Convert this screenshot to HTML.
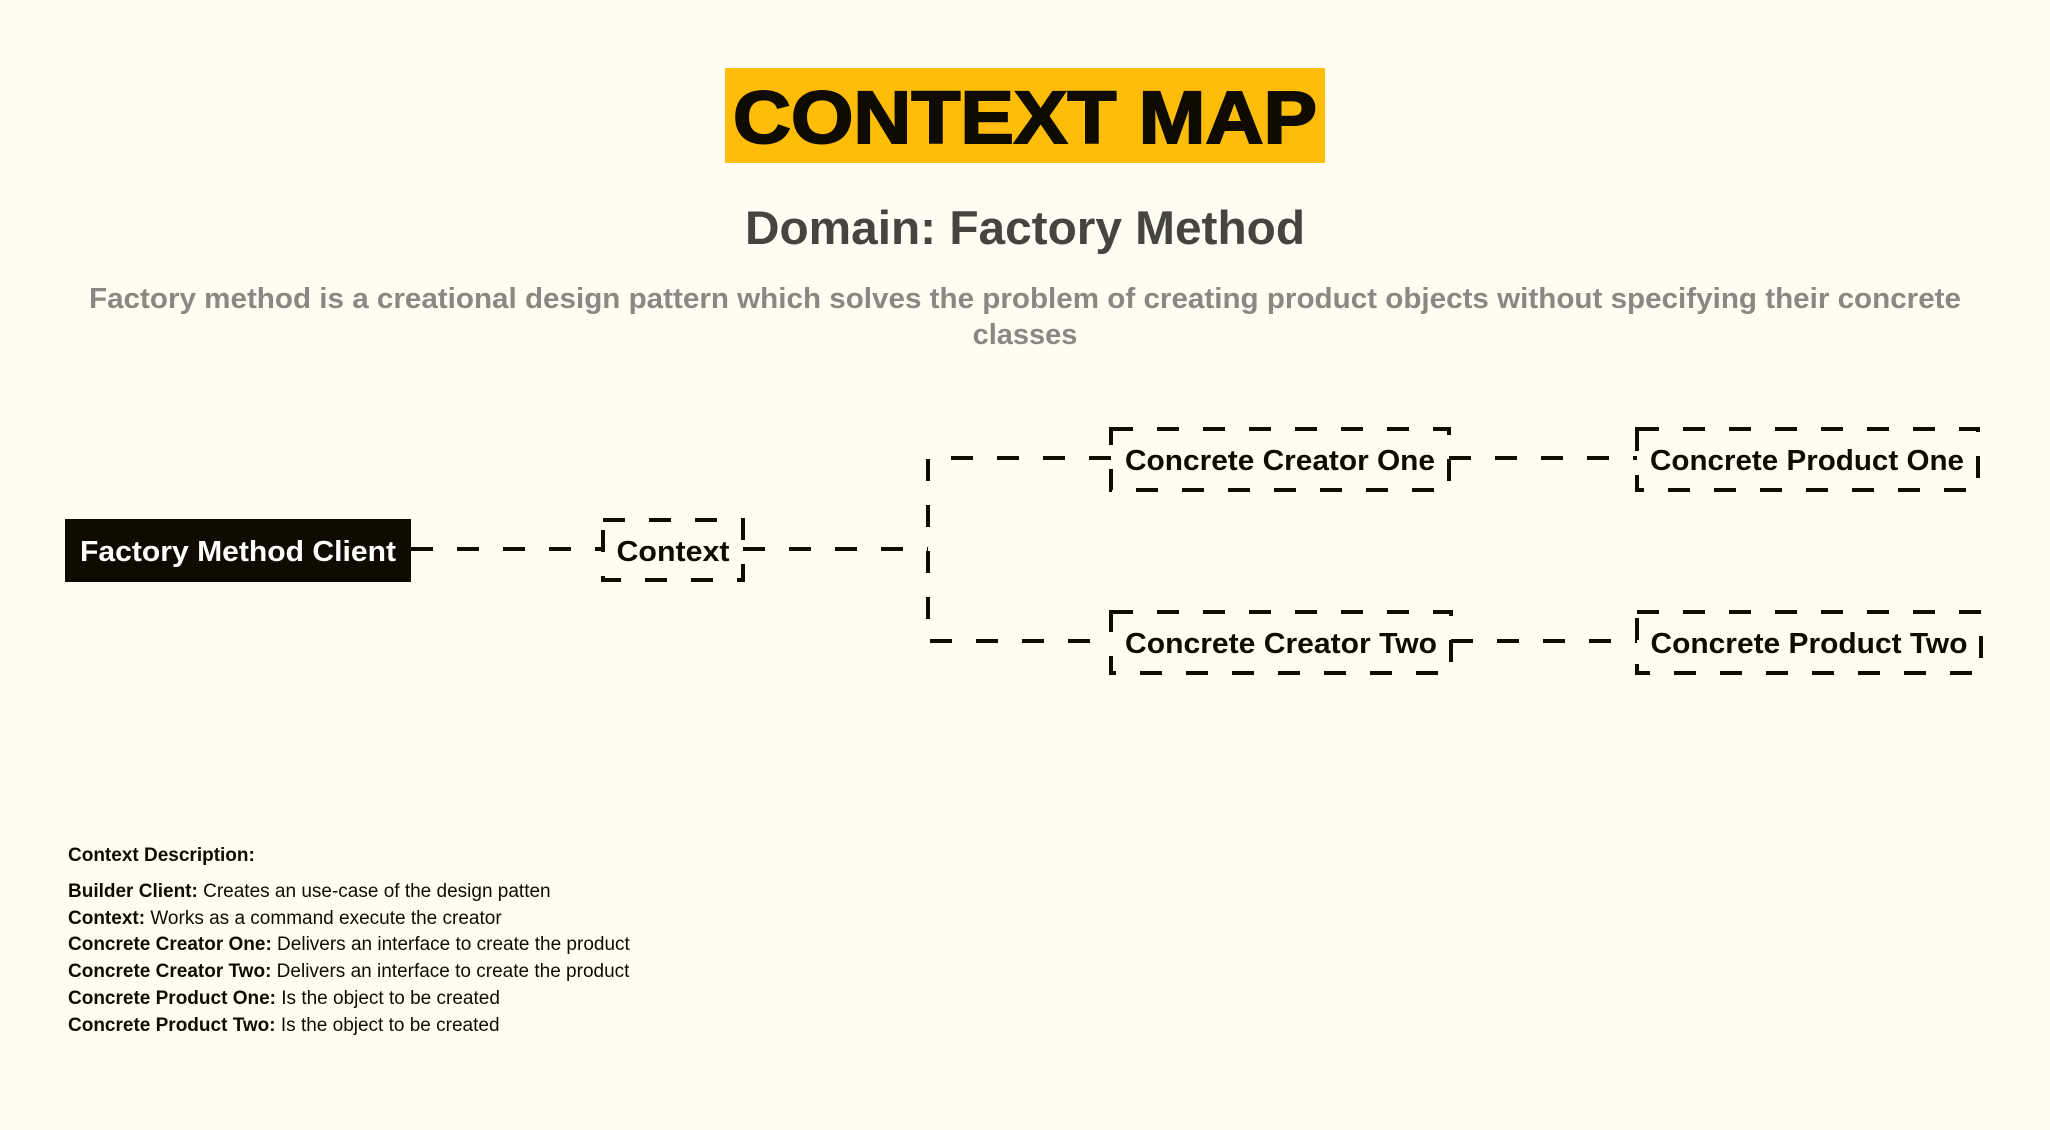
<!DOCTYPE html>
<html><head><meta charset="utf-8"><style>
html,body{margin:0;padding:0;background:#fffdf2;}
svg{display:block;}
</style></head><body>
<svg width="2050" height="1130" viewBox="0 0 2050 1130" xmlns="http://www.w3.org/2000/svg" font-family="Liberation Sans, sans-serif">
<rect width="2050" height="1130" fill="#fffdf2"/>
<rect x="725" y="68" width="600" height="95" fill="#ffbd08"/>
<text x="1025" y="143" text-anchor="middle" font-size="74" font-weight="900" fill="#0f0b01" textLength="584" lengthAdjust="spacingAndGlyphs" stroke="#0f0b01" stroke-width="2">CONTEXT MAP</text>
<text x="1025" y="244" text-anchor="middle" font-size="47" font-weight="bold" fill="#45443d" textLength="560" lengthAdjust="spacingAndGlyphs">Domain: Factory Method</text>
<text x="1025" y="308" text-anchor="middle" font-size="29" font-weight="bold" fill="#8a897f" textLength="1872" lengthAdjust="spacingAndGlyphs">Factory method is a creational design pattern which solves the problem of creating product objects without specifying their concrete</text>
<text x="1025" y="344" text-anchor="middle" font-size="29" font-weight="bold" fill="#8a897f">classes</text>

<g stroke="#0f0b01" stroke-width="4" fill="none" stroke-dasharray="22 24">
<line x1="411" y1="549" x2="603" y2="549"/>
<line x1="743" y1="549" x2="928" y2="549"/>
<polyline points="1111,458 928,458 928,641 1111,641" />
<line x1="1449" y1="458" x2="1637" y2="458"/>
<line x1="1451" y1="641" x2="1637" y2="641"/>
<rect x="603" y="520" width="140" height="60"/>
<rect x="1111" y="429" width="338" height="61"/>
<rect x="1111" y="612" width="340" height="61"/>
<rect x="1637" y="429" width="341" height="61"/>
<rect x="1637" y="612" width="344" height="61"/>
</g>
<rect x="65" y="519" width="346" height="63" fill="#0f0b01"/>
<g font-size="29" font-weight="bold" fill="#0f0b01" text-anchor="middle">
<text x="238" y="561" fill="#fff" textLength="316" lengthAdjust="spacingAndGlyphs">Factory Method Client</text>
<text x="673" y="561" textLength="113" lengthAdjust="spacingAndGlyphs">Context</text>
<text x="1280" y="470" textLength="310" lengthAdjust="spacingAndGlyphs">Concrete Creator One</text>
<text x="1281" y="653" textLength="312" lengthAdjust="spacingAndGlyphs">Concrete Creator Two</text>
<text x="1807" y="470" textLength="314" lengthAdjust="spacingAndGlyphs">Concrete Product One</text>
<text x="1809" y="653" textLength="317" lengthAdjust="spacingAndGlyphs">Concrete Product Two</text>
</g>
<g font-size="19" fill="#0f0b01">
<text x="68" y="861" font-weight="bold">Context Description:</text>
<text x="68" y="897"><tspan font-weight="bold">Builder Client:</tspan> Creates an use-case of the design patten</text>
<text x="68" y="924"><tspan font-weight="bold">Context:</tspan> Works as a command execute the creator</text>
<text x="68" y="950"><tspan font-weight="bold">Concrete Creator One:</tspan> Delivers an interface to create the product</text>
<text x="68" y="977"><tspan font-weight="bold">Concrete Creator Two:</tspan> Delivers an interface to create the product</text>
<text x="68" y="1004"><tspan font-weight="bold">Concrete Product One:</tspan> Is the object to be created</text>
<text x="68" y="1031"><tspan font-weight="bold">Concrete Product Two:</tspan> Is the object to be created</text>
</g>
</svg>
</body></html>
